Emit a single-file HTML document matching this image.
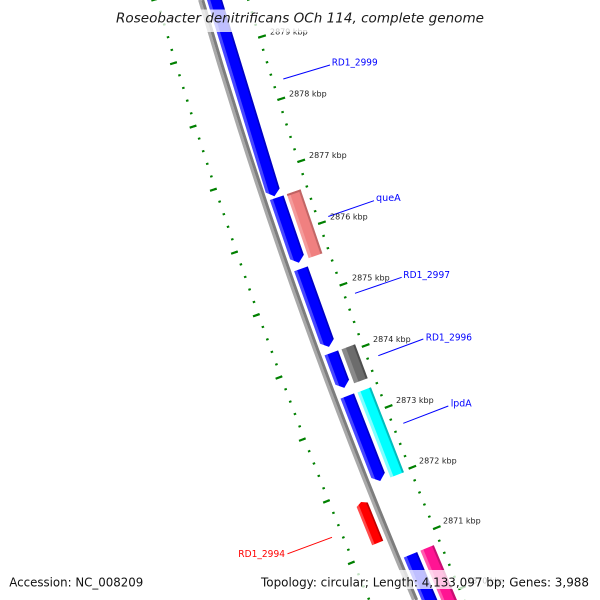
<!DOCTYPE html>
<html>
<head>
<meta charset="utf-8">
<style>
html,body{margin:0;padding:0;background:#fff;width:600px;height:600px;overflow:hidden;}
svg{display:block;overflow:hidden;}
text{font-family:"DejaVu Sans","Liberation Sans",sans-serif;}
</style>
</head>
<body>
<svg width="600" height="600" viewBox="0 0 600 600" overflow="hidden" xmlns="http://www.w3.org/2000/svg">
<defs>
  <linearGradient id="gBlue" gradientUnits="userSpaceOnUse" x1="-7.5" y1="0" x2="7" y2="0">
    <stop offset="0" stop-color="#4848ff"/><stop offset="0.2" stop-color="#4848ff"/>
    <stop offset="0.24" stop-color="#0000ff"/><stop offset="0.86" stop-color="#0000ff"/>
    <stop offset="0.9" stop-color="#0000c4"/><stop offset="1" stop-color="#0000c4"/>
  </linearGradient>
  <linearGradient id="gBlue6" gradientUnits="userSpaceOnUse" x1="403.77" y1="557.54" x2="417.16" y2="551.98">
    <stop offset="0" stop-color="#4848ff"/><stop offset="0.2" stop-color="#4848ff"/>
    <stop offset="0.24" stop-color="#0000ff"/><stop offset="0.86" stop-color="#0000ff"/>
    <stop offset="0.9" stop-color="#0000c4"/><stop offset="1" stop-color="#0000c4"/>
  </linearGradient>
  <linearGradient id="gPink" gradientUnits="userSpaceOnUse" x1="10.5" y1="0" x2="25" y2="0">
    <stop offset="0" stop-color="#f49c9c"/><stop offset="0.2" stop-color="#f49c9c"/>
    <stop offset="0.24" stop-color="#f08080"/><stop offset="0.84" stop-color="#f08080"/>
    <stop offset="0.88" stop-color="#c26666"/><stop offset="1" stop-color="#c26666"/>
  </linearGradient>
  <linearGradient id="gGray" gradientUnits="userSpaceOnUse" x1="10.5" y1="0" x2="25" y2="0">
    <stop offset="0" stop-color="#8a8a8a"/><stop offset="0.3" stop-color="#8a8a8a"/>
    <stop offset="0.34" stop-color="#6c6c6c"/><stop offset="0.84" stop-color="#6c6c6c"/>
    <stop offset="0.88" stop-color="#4e4e4e"/><stop offset="1" stop-color="#4e4e4e"/>
  </linearGradient>
  <linearGradient id="gCyan" gradientUnits="userSpaceOnUse" x1="10.5" y1="0" x2="25" y2="0">
    <stop offset="0" stop-color="#80ffff"/><stop offset="0.2" stop-color="#80ffff"/>
    <stop offset="0.24" stop-color="#00ffff"/><stop offset="0.84" stop-color="#00ffff"/>
    <stop offset="0.88" stop-color="#00bdbd"/><stop offset="1" stop-color="#00bdbd"/>
  </linearGradient>
  <linearGradient id="gMag" gradientUnits="userSpaceOnUse" x1="420.4" y1="550.63" x2="433.79" y2="545.08">
    <stop offset="0" stop-color="#ff5aae"/><stop offset="0.2" stop-color="#ff5aae"/>
    <stop offset="0.24" stop-color="#ff1493"/><stop offset="0.84" stop-color="#ff1493"/>
    <stop offset="0.88" stop-color="#c80f72"/><stop offset="1" stop-color="#c80f72"/>
  </linearGradient>
  <linearGradient id="gRed" gradientUnits="userSpaceOnUse" x1="-32" y1="0" x2="-20" y2="0">
    <stop offset="0" stop-color="#ff4a4a"/><stop offset="0.2" stop-color="#ff4a4a"/>
    <stop offset="0.25" stop-color="#ff0000"/><stop offset="0.84" stop-color="#ff0000"/>
    <stop offset="0.88" stop-color="#c00000"/><stop offset="1" stop-color="#c00000"/>
  </linearGradient>
</defs>

<rect x="0" y="0" width="600" height="600" fill="#ffffff"/>

<!-- tick rings -->
<g fill="none" stroke="#008000">
  <path d="M206.316 -151.006 A5338.25 5338.25 0 0 0 464.30 600" stroke-width="2.5" stroke-dasharray="2 11.0439" stroke-dashoffset="1"/>
  <path d="M208.976 -151.704 A5335.5 5335.5 0 0 0 467.293 600" stroke-width="8" stroke-dasharray="2.2 62.9854" stroke-dashoffset="1.1"/>
  <path d="M121.678 -128.813 A5425.75 5425.75 0 0 0 369.226 600" stroke-width="2.5" stroke-dasharray="2 11.2576" stroke-dashoffset="1"/>
  <path d="M119.501 -128.242 A5428 5428 0 0 0 366.785 600" stroke-width="7" stroke-dasharray="2.2 64.1155" stroke-dashoffset="1.1"/>
</g>

<!-- backbone -->
<path d="M199.6 0 A5385 5385 0 0 0 413.5 600" fill="none" stroke="#a9a9a9" stroke-width="3"/>
<path d="M202.7 0 A5382 5382 0 0 0 416.7 600" fill="none" stroke="#7d7d7d" stroke-width="3"/>

<!-- lane 1 (blue) -->
<g fill="url(#gBlue)">
  <g transform="rotate(-16.9815 5370 -1505) translate(0 -1505)">
    <polygon points="-7.5,-138.86 7,-138.86 7,132.86 -0.25,138.86 -7.5,132.86"/>
  </g>
  <g transform="rotate(-18.8515 5370 -1505) translate(0 -1505)">
    <polygon points="-7.5,-34.35 7,-34.35 7,28.35 -0.25,34.35 -7.5,28.35"/>
  </g>
  <g transform="rotate(-19.729 5370 -1505) translate(0 -1505)">
    <polygon points="-7.5,-41.52 7,-41.52 7,35.52 -0.25,41.52 -7.5,35.52"/>
  </g>
  <g transform="rotate(-20.439 5370 -1505) translate(0 -1505)">
    <polygon points="-7.5,-18.65 7,-18.65 7,12.65 -0.25,18.65 -7.5,12.65"/>
  </g>
  <g transform="rotate(-21.217 5370 -1505) translate(0 -1505)">
    <polygon points="-7.5,-45.55 7,-45.55 7,39.55 -0.25,45.55 -7.5,39.55"/>
  </g>
</g>
<polygon points="403.77,557.54 417.16,551.98 437.38,600 421.62,600" fill="url(#gBlue6)"/>

<!-- lane 2 -->
<g transform="rotate(-18.844 5370 -1505) translate(0 -1505)">
  <rect x="10.5" y="-33.82" width="14.5" height="67.64" fill="url(#gPink)"/>
  <rect x="10.5" y="-33.82" width="14.5" height="2" fill="#c06262"/>
</g>
<g transform="rotate(-20.436 5370 -1505) translate(0 -1505)">
  <rect x="10.5" y="-18.12" width="14.5" height="36.24" fill="url(#gGray)"/>
</g>
<g transform="rotate(-21.222 5370 -1505) translate(0 -1505)">
  <rect x="10.5" y="-45.59" width="14.5" height="91.18" fill="url(#gCyan)"/>
</g>
<polygon points="420.4,550.63 433.79,545.08 456.96,600 441.19,600" fill="url(#gMag)"/>

<!-- outer lane (red) -->
<g transform="rotate(-22.07 5370 -1505) translate(0 -1505)">
  <polygon points="-26,-22.13 -20,-19.13 -20,22.13 -32,22.13 -32,-19.13" fill="url(#gRed)"/>
</g>

<!-- leader lines -->
<g stroke-width="1" fill="none">
  <line x1="283.3" y1="79" x2="330" y2="65" stroke="#0000ff"/>
  <line x1="328.3" y1="216.5" x2="374" y2="200.7" stroke="#0000ff"/>
  <line x1="355" y1="293.3" x2="401.7" y2="277.3" stroke="#0000ff"/>
  <line x1="378.3" y1="355.7" x2="423.3" y2="339" stroke="#0000ff"/>
  <line x1="403.3" y1="423.3" x2="448.3" y2="406" stroke="#0000ff"/>
  <line x1="287.5" y1="553.8" x2="332" y2="537.3" stroke="#ff0000"/>
</g>

<!-- tick labels -->
<g font-size="8" fill="#222">
  <text x="270" y="34.5">2879 kbp</text>
  <text x="289" y="96.3">2878 kbp</text>
  <text x="309" y="158">2877 kbp</text>
  <text x="330" y="219.4">2876 kbp</text>
  <text x="352" y="280.6">2875 kbp</text>
  <text x="373" y="342">2874 kbp</text>
  <text x="396" y="403.2">2873 kbp</text>
  <text x="419" y="463.4">2872 kbp</text>
  <text x="443" y="523.4">2871 kbp</text>
  <text x="467" y="583.5">2870 kbp</text>
</g>

<!-- feature labels -->
<g font-size="9.5">
  <text x="331.7" y="65.5" fill="#0000ff" textLength="46" lengthAdjust="spacingAndGlyphs">RD1_2999</text>
  <text x="376" y="201" fill="#0000ff" textLength="24.7" lengthAdjust="spacingAndGlyphs">queA</text>
  <text x="403.3" y="278" fill="#0000ff" textLength="46.7" lengthAdjust="spacingAndGlyphs">RD1_2997</text>
  <text x="425.7" y="340.5" fill="#0000ff" textLength="46.3" lengthAdjust="spacingAndGlyphs">RD1_2996</text>
  <text x="450.7" y="406.5" fill="#0000ff" textLength="21" lengthAdjust="spacingAndGlyphs">lpdA</text>
  <text x="238.3" y="557.2" fill="#ff0000" textLength="46.7" lengthAdjust="spacingAndGlyphs">RD1_2994</text>
</g>

<!-- translucent boxes -->
<rect x="112" y="9.5" width="376" height="22.5" fill="#ffffff" fill-opacity="0.75"/>
<rect x="6" y="570" width="141" height="19" fill="#ffffff" fill-opacity="0.75"/>
<rect x="257" y="570" width="336" height="19" fill="#ffffff" fill-opacity="0.75"/>

<!-- title & footer -->
<text x="116" y="22.7" font-size="13" font-style="italic" fill="#1a1a1a" textLength="368" lengthAdjust="spacingAndGlyphs">Roseobacter denitrificans OCh 114, complete genome</text>
<text x="9.3" y="586.7" font-size="12" fill="#111" textLength="134" lengthAdjust="spacingAndGlyphs">Accession: NC_008209</text>
<text x="261" y="586.7" font-size="12" fill="#111" textLength="328" lengthAdjust="spacingAndGlyphs">Topology: circular; Length: 4,133,097 bp; Genes: 3,988</text>
</svg>
</body>
</html>
